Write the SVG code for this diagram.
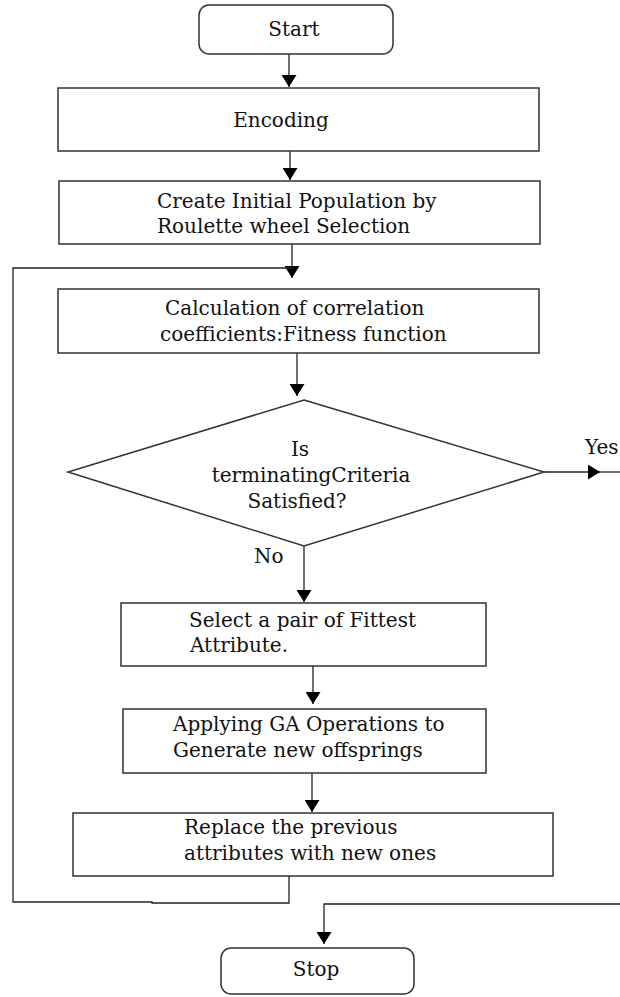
<svg xmlns="http://www.w3.org/2000/svg" width="620" height="997" viewBox="0 0 620 997">
<style>
.box{fill:#fff;stroke:#333;stroke-width:1.5}
.ln{fill:none;stroke:#222;stroke-width:1.3}
.t{font-family:"DejaVu Serif","Liberation Serif",serif;font-size:20px;fill:#111}
.c{text-anchor:middle}
</style>
<defs>
<marker id="ah" viewBox="0 0 12 15" refX="12" refY="7.5" markerWidth="12" markerHeight="15" markerUnits="userSpaceOnUse" orient="auto">
<path d="M0,0 L12,7.5 L0,15 Z" fill="#000"/>
</marker>
</defs>
<rect width="620" height="997" fill="#fff"/>
<g id="connectors">
<line class="ln" x1="289" y1="54" x2="289" y2="87" marker-end="url(#ah)"/>
<line class="ln" x1="290" y1="151" x2="290" y2="180" marker-end="url(#ah)"/>
<line class="ln" x1="292" y1="244" x2="292" y2="278" marker-end="url(#ah)"/>
<line class="ln" x1="297" y1="353" x2="297" y2="396" marker-end="url(#ah)"/>
<line class="ln" x1="304" y1="546" x2="304" y2="602" marker-end="url(#ah)"/>
<line class="ln" x1="313" y1="666" x2="313" y2="704" marker-end="url(#ah)"/>
<line class="ln" x1="312" y1="773" x2="312" y2="812" marker-end="url(#ah)"/>
<polyline class="ln" points="289,876 289,903 152,903 152,902 13,902 13,268 292,268"/>
<line class="ln" x1="544" y1="472" x2="600" y2="472" marker-end="url(#ah)"/>
<line class="ln" x1="598" y1="472" x2="620" y2="472"/>
<polyline class="ln" points="620,904 324,904 324,944" marker-end="url(#ah)"/>
<text class="t" x="585" y="454">Yes</text>
<text class="t" x="254" y="563">No</text>
</g>
<g id="start">
<rect class="box" x="199" y="5" width="194" height="49" rx="10"/>
<text class="t c" x="294" y="36">Start</text>
</g>
<g id="encoding">
<rect class="box" x="58" y="88" width="481" height="63"/>
<text class="t c" x="281" y="127">Encoding</text>
</g>
<g id="create">
<rect class="box" x="59" y="181" width="481" height="63"/>
<text class="t" x="157" y="208">Create Initial Population by</text>
<text class="t" x="157" y="233">Roulette wheel Selection</text>
</g>
<g id="calc">
<rect class="box" x="58" y="289" width="481" height="64"/>
<text class="t" x="165" y="315">Calculation of correlation</text>
<text class="t" x="160" y="341">coefficients:Fitness function</text>
</g>
<g id="decision">
<polygon class="box" points="304,400 544,472 304,546 68,472"/>
<text class="t c" x="300" y="456">Is</text>
<text class="t c" x="311" y="482">terminatingCriteria</text>
<text class="t c" x="297" y="508">Satisfied?</text>
</g>
<g id="select">
<rect class="box" x="121" y="603" width="365" height="63"/>
<text class="t" x="189" y="627">Select a pair of Fittest</text>
<text class="t" x="190" y="652">Attribute.</text>
</g>
<g id="apply">
<rect class="box" x="123" y="709" width="363" height="64"/>
<text class="t" x="173" y="731">Applying GA Operations to</text>
<text class="t" x="173" y="757">Generate new offsprings</text>
</g>
<g id="replace">
<rect class="box" x="73" y="813" width="480" height="63"/>
<text class="t" x="184" y="834">Replace the previous</text>
<text class="t" x="184" y="860">attributes with new ones</text>
</g>
<g id="stop">
<rect class="box" x="221" y="948" width="193" height="46" rx="10"/>
<text class="t c" x="316" y="976">Stop</text>
</g>
</svg>
